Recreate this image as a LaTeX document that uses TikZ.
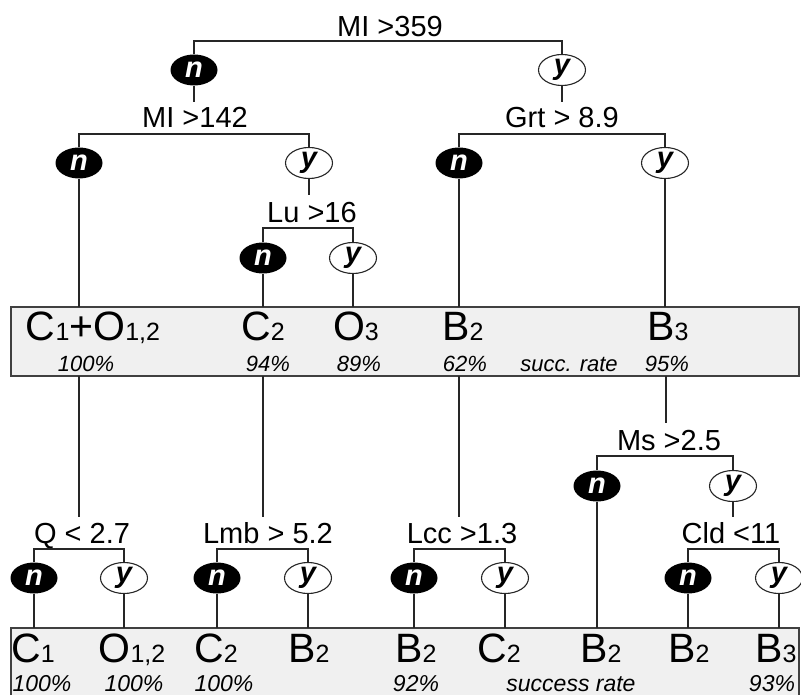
\documentclass[tikz,border=0pt]{standalone}
\usepackage{fontspec}
\setmainfont{Liberation Sans}
\usetikzlibrary{shapes.geometric}
\newcommand\lowsub[1]{{\fontsize{25}{25}\selectfont #1}}
\begin{document}
\begin{tikzpicture}[x=1pt,y=-1pt,
  ln/.style={line width=1.3pt, draw=black!85},
  nn/.style={ellipse, fill=black, text=white, font=\bfseries\itshape\fontsize{29}{29}\selectfont, minimum width=47pt, minimum height=31pt, inner sep=0pt},
  yy/.style={ellipse, fill=white, draw=black!85, line width=1.1pt, text=black, font=\bfseries\itshape\fontsize{29}{29}\selectfont, minimum width=47pt, minimum height=31pt, inner sep=0pt},
  dl/.style={font=\fontsize{29}{29}\selectfont, inner sep=0pt, anchor=base},
  big/.style={font=\fontsize{41}{41}\selectfont, inner sep=0pt, anchor=base},
  pc/.style={font=\itshape\fontsize{22}{22}\selectfont, inner sep=0pt, anchor=base},
  pcb/.style={font=\itshape\fontsize{23}{23}\selectfont, inner sep=0pt, anchor=base},
  boxst/.style={fill=black!6, draw=black!75, line width=1.5pt}
]
\useasboundingbox (0,0) rectangle (801,695);
\clip (0,0) rectangle (801,695);

% result boxes
\path[boxst] (11,307) rectangle (799,376);
\path[boxst] (11,628) rectangle (799,705);
\coordinate (box1top) at (400,307);
\coordinate (box1bot) at (400,376);
\coordinate (box2top) at (400,628);

% level 0
\node[dl] (r0) at (390,37) {MI >359};
\coordinate (b0) at (390,41);
\node[nn] (n1) at (194,70) {n};
\node[yy] (y1) at (562,70) {y};
\draw[ln] (n1.north) |- (b0) -| (y1.north);

% level 1 left
\coordinate (t1) at (194,102);
\draw[ln] (n1.south) -- (t1);
\node[dl] (r1) at (195,128) {MI >142};
\coordinate (b1) at (195,134);
\node[nn] (n2) at (79,163) {n};
\node[yy] (y2) at (309,163) {y};
\draw[ln] (n2.north) |- (b1) -| (y2.north);

% level 1 right
\coordinate (t2) at (562,102);
\draw[ln] (y1.south) -- (t2);
\node[dl] (r2) at (562,128) {Grt > 8.9};
\coordinate (b2) at (562,134);
\node[nn] (n3) at (459,163) {n};
\node[yy] (y3) at (665,163) {y};
\draw[ln] (n3.north) |- (b2) -| (y3.north);

% Lu
\coordinate (t3) at (309,195);
\draw[ln] (y2.south) -- (t3);
\node[dl] (r3) at (312,223) {Lu >16};
\coordinate (b3) at (312,228);
\node[nn] (n4) at (263,258) {n};
\node[yy] (y4) at (353,258) {y};
\draw[ln] (n4.north) |- (b3) -| (y4.north);

% down to box 1
\draw[ln] (n2.south) -- (n2.south |- box1top);
\draw[ln] (n4.south) -- (n4.south |- box1top);
\draw[ln] (y4.south) -- (y4.south |- box1top);
\draw[ln] (n3.south) -- (n3.south |- box1top);
\draw[ln] (y3.south) -- (y3.south |- box1top);

% box 1 texts
\node[big] (c1o12) at (93,340) {C\lowsub{1}+O\lowsub{1,2}};
\node[big] (c2a) at (263,340) {C\lowsub{2}};
\node[big] (o3a) at (356,340) {O\lowsub{3}};
\node[big] (b2a) at (463,340) {B\lowsub{2}};
\node[big] (b3a) at (668,340) {B\lowsub{3}};
\node[pc] (p1) at (86,371) {100\%};
\node[pc] (p2) at (268,371) {94\%};
\node[pc] (p3) at (359,371) {89\%};
\node[pc] (p4) at (465,371) {62\%};
\node[pc] (sr1) at (569,371) {succ. rate};
\node[pc] (p5) at (667,371) {95\%};

% below box 1
\coordinate (d1) at (79,517);
\coordinate (d2) at (263,517);
\coordinate (d3) at (459,517);
\coordinate (d4) at (666,423);
\draw[ln] (d1 |- box1bot) -- (d1);
\draw[ln] (d2 |- box1bot) -- (d2);
\draw[ln] (d3 |- box1bot) -- (d3);
\draw[ln] (d4 |- box1bot) -- (d4);

% Ms
\node[dl] (r4) at (669,450) {Ms >2.5};
\coordinate (b4) at (669,456);
\node[nn] (n5) at (597,486) {n};
\node[yy] (y5) at (733,486) {y};
\draw[ln] (n5.north) |- (b4) -| (y5.north);
\coordinate (t5) at (733,517);
\draw[ln] (y5.south) -- (t5);
\draw[ln] (n5.south) -- (n5.south |- box2top);

% bottom splits
\node[dl] (rq) at (82,543) {Q < 2.7};
\coordinate (bq) at (82,549);
\node[nn] (nq) at (34,578) {n};
\node[yy] (yq) at (124,578) {y};
\draw[ln] (nq.north) |- (bq) -| (yq.north);

\node[dl] (rl) at (268,543) {Lmb > 5.2};
\coordinate (bl) at (268,549);
\node[nn] (nl) at (217,578) {n};
\node[yy] (yl) at (308,578) {y};
\draw[ln] (nl.north) |- (bl) -| (yl.north);

\node[dl] (rc) at (462,543) {Lcc >1.3};
\coordinate (bc) at (462,549);
\node[nn] (nc) at (414,578) {n};
\node[yy] (yc) at (505,578) {y};
\draw[ln] (nc.north) |- (bc) -| (yc.north);

\node[dl] (rd) at (731,543) {Cld <11};
\coordinate (bd) at (731,549);
\node[nn] (nd) at (688,578) {n};
\node[yy] (yd) at (779,578) {y};
\draw[ln] (nd.north) |- (bd) -| (yd.north);

\foreach \e in {nq,yq,nl,yl,nc,yc,nd,yd}{
  \draw[ln] (\e.south) -- (\e.south |- box2top);
}

% box 2 texts
\node[big] (l1) at (33,662) {C\lowsub{1}};
\node[big] (l2) at (132,662) {O\lowsub{1,2}};
\node[big] (l3) at (216,662) {C\lowsub{2}};
\node[big] (l4) at (309,662) {B\lowsub{2}};
\node[big] (l5) at (416,662) {B\lowsub{2}};
\node[big] (l6) at (499,662) {C\lowsub{2}};
\node[big] (l7) at (601,662) {B\lowsub{2}};
\node[big] (l8) at (689,662) {B\lowsub{2}};
\node[big] (l9) at (776,662) {B\lowsub{3}};
\node[pcb] (q1) at (42,691) {100\%};
\node[pcb] (q2) at (134,691) {100\%};
\node[pcb] (q3) at (224,691) {100\%};
\node[pcb] (q4) at (416,691) {92\%};
\node[pcb] (sr2) at (571,691) {success rate};
\node[pcb] (q5) at (772,691) {93\%};
\end{tikzpicture}
\end{document}
